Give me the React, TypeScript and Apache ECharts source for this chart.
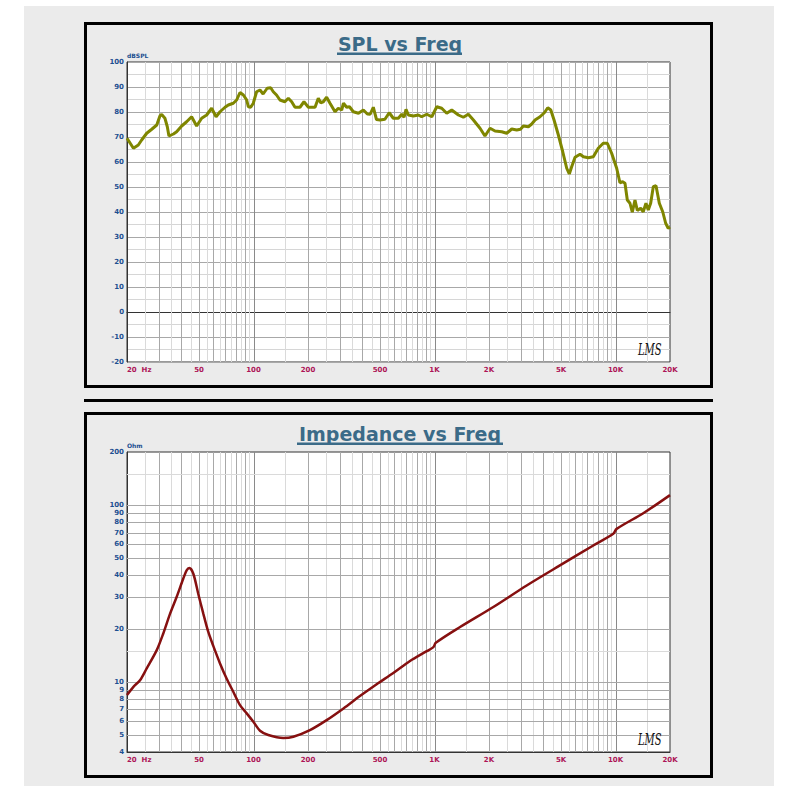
import React, { useEffect, useRef } from "react";
import * as echarts from "echarts";

// ---------------- data ----------------
const SPL_FREQ = [
  20, 21.7, 23.1, 24.1, 25.7, 27.4, 29.2, 30.4, 31.1, 32.4, 33.4, 34.1, 36.1, 37.6, 40.1, 42.7, 45.5, 48.5,
  51.7, 55.1, 58.7, 62.1, 65.3, 69.6, 72.6, 77.3, 80.7, 84.2, 87.9, 91.7, 93.6, 96.5, 99.7, 104, 108.6, 113,
  119, 124.4, 128.6, 134, 140, 149, 155.7, 162.5, 169.5, 180.6, 190, 201, 218.8, 228, 235, 243, 253.5, 264.6,
  282, 294, 307, 314, 327, 339, 356, 380, 404.6, 425.6, 441, 459, 478, 500, 532, 562, 592, 631, 659, 679,
  696, 717, 764, 814, 849, 906, 966, 1029, 1096, 1168, 1245, 1355, 1443, 1538, 1640, 1784, 1900, 2027, 2160,
  2351, 2506, 2671, 2846, 2985, 3098, 3300, 3445, 3592, 3828, 4045, 4223, 4390, 4575, 4833, 5110, 5375, 5555,
  5725, 5976, 6367, 6645, 7080, 7540, 8030, 8555, 9010, 9520, 10150, 10580, 10950, 11280, 11620, 12020, 12380,
  12810, 13200, 13780, 14230, 14730, 15170, 15640, 16170, 16740, 17460, 18230, 18930, 19550, 20000,
];
const SPL_DB = [
  69.5, 65.5, 66.8, 68.8, 71.5, 73.1, 74.8, 78.4, 79.0, 77.5, 74.1, 70.4, 71.2, 72.1, 74.4, 76.1, 78.1, 74.4,
  77.5, 78.8, 81.5, 78.1, 80.1, 81.9, 82.8, 83.5, 84.8, 87.8, 86.8, 84.8, 82.1, 81.9, 83.5, 88.1, 88.8, 87.2,
  89.5, 89.7, 88.1, 86.8, 84.8, 84.1, 85.5, 84.1, 81.9, 81.9, 84.1, 81.9, 81.9, 85.5, 83.7, 84.1, 85.9, 83.5,
  80.1, 81.5, 80.8, 83.5, 81.9, 82.1, 80.1, 79.5, 80.8, 79.2, 79.1, 81.9, 77.0, 76.8, 77.1, 79.7, 77.5, 77.5, 79.1, 77.9,
  81.1, 78.8, 78.4, 78.8, 78.1, 79.1, 78.1, 82.1, 81.5, 79.5, 80.8, 78.8, 77.9, 79.1, 76.8, 73.5, 70.4, 73.5, 72.4,
  72.1, 71.5, 73.2, 72.8, 73.1, 74.4, 74.1, 75.2, 76.8, 78.1, 79.7, 81.7, 80.8, 76.8, 70.8, 64.1, 57.5, 55.2,
  58.1, 61.9, 63.1, 62.1, 61.7, 62.1, 65.5, 67.5, 67.5, 63.5, 57.5, 51.7, 52.1, 51.5, 44.8, 43.5, 39.9,
  44.8, 40.6, 41.5, 40.1, 43.5, 40.8, 43.5, 50.1, 50.5, 43.5, 40.1, 35.5, 33.5, 34.0,
];

const IMP_FREQ = [
  20, 21.7, 23.6, 25.7, 29.2, 31.7, 34.6, 37.6, 40.9, 42.7, 44.2, 46.5, 49.5, 52.8, 56.2, 60, 65.3, 71.1,
  77.3, 84.2, 91.7, 99.8, 108.6, 120.7, 146, 166, 205, 253.5, 314, 387, 479, 592, 732, 906, 986, 1016, 1384,
  2113, 3230, 4930, 7540, 9720, 10140, 14230, 20000,
];
const IMP_OHM = [
  8.4, 9.36, 10.2, 11.9, 15.1, 18.7, 24.3, 30.2, 38.3, 42.7, 44.0, 40.9, 31.5, 24.3, 19.2, 15.9, 12.7, 10.4,
  8.77, 7.37, 6.62, 5.93, 5.28, 4.99, 4.8, 4.88, 5.32, 6.06, 7.06, 8.29, 9.68, 11.2, 13.1, 14.9, 15.7, 16.6, 20.4,
  26.5, 35.1, 45.6, 59.1, 68.8, 73.4, 90, 114,
];

const FREQ_TICKS = [20, 50, 100, 200, 500, 1000, 2000, 5000, 10000, 20000];
const FREQ_TICK_LABELS = ["20  Hz", "50", "100", "200", "500", "1K", "2K", "5K", "10K", "20K"];
const OHM_TICKS = [4, 5, 6, 7, 8, 9, 10, 20, 30, 40, 50, 60, 70, 80, 90, 100, 200];
const OHM_MINOR = [15, 150];

const FREQ_MIN = 20;
const FREQ_MAX = 20000;
const SPL_MIN = -20;
const SPL_MAX = 100;
const OHM_MIN = 4;
const OHM_MAX = 200;

// ---------------- styles ----------------
const TITLE_COLOR = "#3b6b88";
const Y_LABEL_COLOR = "#1d4f91";
const X_LABEL_COLOR = "#ad1457";
const SPL_COLOR = "#7f8600";
const IMP_COLOR = "#861010";
const GRID_COLORS = ["#dadada", "#a8a8a8", "#8a8a8a"];
const FONT = "DejaVu Sans";

const lg = (v: number) => Math.log10(v);
const LF_MIN = lg(FREQ_MIN);
const LF_MAX = lg(FREQ_MAX);

const FREQ_GRID: { f: number; kind: number }[] = (() => {
  const out: { f: number; kind: number }[] = [];
  for (const d of [10, 100, 1000, 10000]) {
    for (let k = 1; k < 10; k += 0.5) {
      const f = k * d;
      if (f > FREQ_MIN && f < FREQ_MAX) out.push({ f, kind: k === 1 ? 2 : Number.isInteger(k) ? 1 : 0 });
    }
  }
  return out;
})();

const OHM_GRID = [
  ...OHM_TICKS.filter((v) => v > OHM_MIN && v < OHM_MAX).map((v) => ({ v, kind: 1 })),
  ...OHM_MINOR.map((v) => ({ v, kind: 0 })),
];

function findLabel(val: number, ticks: number[], labels: string[]) {
  for (let i = 0; i < ticks.length; i++) {
    if (Math.abs(lg(ticks[i]) - val) < 1e-6) return labels[i];
  }
  return "";
}

function vGridSeries(idx: number, yMin: number, yMax: number) {
  return {
    type: "custom",
    xAxisIndex: idx,
    yAxisIndex: idx,
    silent: true,
    z: 1,
    data: FREQ_GRID.map((g) => [lg(g.f), yMin, g.kind]),
    renderItem: (_p: any, api: any) => {
      const x = api.value(0);
      const kind = api.value(2);
      const a = api.coord([x, yMin]);
      const b = api.coord([x, yMax]);
      const px = Math.round(a[0]) + 0.5;
      return {
        type: "line",
        shape: { x1: px, y1: a[1], x2: px, y2: b[1] },
        style: { stroke: GRID_COLORS[kind], lineWidth: 1 },
      };
    },
  };
}

export default function App() {
  const ref = useRef<HTMLDivElement>(null);

  useEffect(() => {
    if (!ref.current) return;
    const chart = echarts.init(ref.current, undefined, { renderer: "svg" });

    const xAxisBase = (i: number) => ({
      type: "value",
      gridIndex: i,
      min: LF_MIN,
      max: LF_MAX,
      axisLine: { show: true, lineStyle: { color: "#333", width: 1 } },
      axisTick: { show: false },
      splitLine: { show: false },
      axisLabel: {
        customValues: FREQ_TICKS.map(lg),
        formatter: (v: number) => findLabel(v, FREQ_TICKS, FREQ_TICK_LABELS),
        color: X_LABEL_COLOR,
        fontSize: 7,
        fontWeight: "bold",
        fontFamily: FONT,
        margin: 4,
        alignMinLabel: "left",
        showMinLabel: true,
        showMaxLabel: true,
        hideOverlap: false,
      },
    });

    const nameStyle = {
      color: Y_LABEL_COLOR,
      fontSize: 6,
      fontWeight: "bold",
      fontFamily: FONT,
      align: "left",
      verticalAlign: "bottom",
    };

    const yLabel = {
      color: Y_LABEL_COLOR,
      fontSize: 7,
      fontWeight: "bold",
      fontFamily: FONT,
      margin: 3,
      showMinLabel: true,
      showMaxLabel: true,
    };

    const titleText = (text: string, y: number) => ({
      type: "text",
      x: 400,
      y,
      z: 10,
      style: {
        text,
        fill: TITLE_COLOR,
        fontFamily: FONT,
        fontWeight: "bold",
        fontSize: 19,
        align: "center",
        verticalAlign: "middle",
      },
    });

    const lms = (y: number) => ({
      type: "text",
      x: 638,
      y,
      z: 10,
      scaleX: 0.62,
      style: {
        text: "LMS",
        fill: "#111",
        fontFamily: "DejaVu Serif",
        fontStyle: "italic",
        fontSize: 16,
        align: "left",
        verticalAlign: "middle",
      },
    });

    const option: any = {
      animation: false,
      graphic: {
        elements: [
          { type: "rect", z: -10, shape: { x: 24, y: 6, width: 750, height: 780 }, style: { fill: "#ebebeb" } },
          {
            type: "rect",
            z: -9,
            shape: { x: 85.5, y: 23.5, width: 626, height: 363 },
            style: { fill: "#ebebeb", stroke: "#000", lineWidth: 3 },
          },
          { type: "rect", z: -9, shape: { x: 84, y: 399, width: 629, height: 3 }, style: { fill: "#000" } },
          {
            type: "rect",
            z: -9,
            shape: { x: 85.5, y: 413.5, width: 626, height: 363 },
            style: { fill: "#ebebeb", stroke: "#000", lineWidth: 3 },
          },
          titleText("SPL vs Freq", 44),
          { type: "rect", z: 10, shape: { x: 337, y: 52.5, width: 125, height: 2.5 }, style: { fill: TITLE_COLOR } },
          titleText("Impedance vs Freq", 434),
          { type: "rect", z: 10, shape: { x: 297, y: 442.5, width: 206, height: 2.5 }, style: { fill: TITLE_COLOR } },
          lms(350),
          lms(740),
        ],
      },
      grid: [
        { left: 127, top: 62, width: 543, height: 300, show: true, backgroundColor: "#fff", borderColor: "#333", borderWidth: 1 },
        { left: 127, top: 452, width: 543, height: 300, show: true, backgroundColor: "#fff", borderColor: "#333", borderWidth: 1 },
      ],
      xAxis: [xAxisBase(0), xAxisBase(1)],
      yAxis: [
        {
          type: "value",
          gridIndex: 0,
          min: SPL_MIN,
          max: SPL_MAX,
          interval: 10,
          name: "dBSPL",
          nameLocation: "end",
          nameGap: 3,
          nameTextStyle: nameStyle,
          axisLine: { show: true, lineStyle: { color: "#333", width: 1 } },
          axisTick: { show: false },
          splitLine: { show: true, lineStyle: { color: "#a8a8a8", width: 1 } },
          minorTick: { show: false, splitNumber: 2 },
          minorSplitLine: { show: true, lineStyle: { color: "#d6d6d6", width: 1 } },
          axisLabel: yLabel,
        },
        {
          type: "value",
          gridIndex: 1,
          min: lg(OHM_MIN),
          max: lg(OHM_MAX),
          name: "Ohm",
          nameLocation: "end",
          nameGap: 3,
          nameTextStyle: nameStyle,
          axisLine: { show: true, lineStyle: { color: "#333", width: 1 } },
          axisTick: { show: false },
          splitLine: { show: false },
          axisLabel: {
            ...yLabel,
            customValues: OHM_TICKS.map(lg),
            formatter: (v: number) => findLabel(v, OHM_TICKS, OHM_TICKS.map(String)),
            hideOverlap: false,
          },
        },
      ],
      series: [
        vGridSeries(0, SPL_MIN, SPL_MAX),
        vGridSeries(1, lg(OHM_MIN), lg(OHM_MAX)),
        {
          type: "custom",
          xAxisIndex: 1,
          yAxisIndex: 1,
          silent: true,
          z: 1,
          data: OHM_GRID.map((g) => [LF_MIN, lg(g.v), g.kind]),
          renderItem: (_p: any, api: any) => {
            const y = api.value(1);
            const kind = api.value(2);
            const a = api.coord([LF_MIN, y]);
            const b = api.coord([LF_MAX, y]);
            const py = Math.round(a[1]) + 0.5;
            return {
              type: "line",
              shape: { x1: a[0], y1: py, x2: b[0], y2: py },
              style: { stroke: GRID_COLORS[kind], lineWidth: 1 },
            };
          },
        },
        {
          type: "line",
          xAxisIndex: 0,
          yAxisIndex: 0,
          z: 3,
          showSymbol: false,
          silent: true,
          data: SPL_FREQ.map((f, i) => [lg(f), SPL_DB[i]]),
          lineStyle: { color: SPL_COLOR, width: 3 },
          itemStyle: { color: SPL_COLOR },
        },
        {
          type: "line",
          xAxisIndex: 1,
          yAxisIndex: 1,
          z: 3,
          showSymbol: false,
          silent: true,
          smooth: 0.3,
          data: IMP_FREQ.map((f, i) => [lg(f), lg(IMP_OHM[i])]),
          lineStyle: { color: IMP_COLOR, width: 2.5 },
          itemStyle: { color: IMP_COLOR },
        },
      ],
    };

    chart.setOption(option);
    return () => chart.dispose();
  }, []);

  return (
    <div
      ref={ref}
      style={{ position: "absolute", left: 0, top: 0, width: 800, height: 800, background: "#fff" }}
    />
  );
}
